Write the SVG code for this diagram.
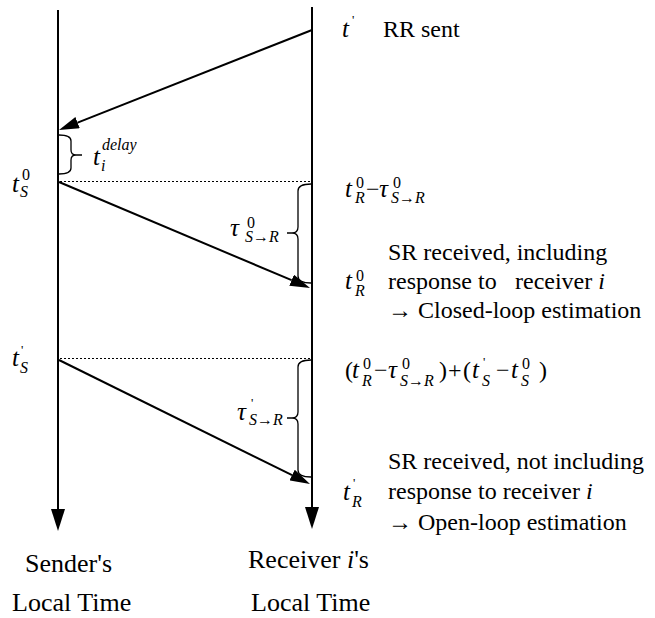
<svg xmlns="http://www.w3.org/2000/svg" width="655" height="618" viewBox="0 0 655 618" font-family="Liberation Serif, DejaVu Serif, serif">
<style>
.l{stroke:#000;stroke-width:2;fill:none}
.b{stroke:#000;stroke-width:1.3;fill:none}
.d{stroke:#000;stroke-width:1;stroke-dasharray:2 2;fill:none}
.t,.lab,.m,.s,.n,.p{font-family:'Liberation Serif','DejaVu Serif',serif;fill:#000}
.t{font-size:24px}
.lab{font-size:26px}
.m{font-size:25px;font-style:italic}
.s{font-size:16px;font-style:italic}
.n{font-size:16px}
.p{font-size:13px}
</style>
<defs>
<marker id="ah" markerUnits="userSpaceOnUse" markerWidth="20" markerHeight="12" refX="0" refY="6" orient="auto"><path d="M0,0 L20,6 L0,12 z" fill="#000"/></marker>
<marker id="big" markerUnits="userSpaceOnUse" markerWidth="22" markerHeight="14" refX="0" refY="7" orient="auto"><path d="M0,0 L22,7 L0,14 z" fill="#000"/></marker>
</defs>
<g id="connectors">
<line id="sender-timeline" class="l" x1="58" y1="10" x2="58" y2="509" marker-end="url(#big)"/>
<line id="receiver-timeline" class="l" x1="312" y1="7" x2="312" y2="507" marker-end="url(#big)"/>
<line id="rr-msg" class="l" x1="312" y1="30" x2="77.6" y2="122.6" marker-end="url(#ah)"/>
<line id="sr0-msg" class="l" x1="59" y1="182" x2="291.6" y2="280.2" marker-end="url(#ah)"/>
<line id="sr1-msg" class="l" x1="59" y1="360" x2="292.1" y2="475.1" marker-end="url(#ah)"/>
<line class="d" x1="60" y1="181.5" x2="311" y2="181.5"/>
<line class="d" x1="60" y1="358.5" x2="311" y2="358.5"/>
<path class="b" d="M59,135 Q71,135 71,141 L71,150 Q71,155 76,155 L82,155 M76,155 Q71,155 71,160 L71,168 Q71,174 59,174"/>
<path class="b" d="M311,184 Q298,184 298,191 L298,227 Q298,233 292,233 L287,233 M292,233 Q298,233 298,239 L298,276 Q298,283 311,283"/>
<path class="b" d="M311,360 Q298,360 298,367 L298,412 Q298,418 292,418 L287,418 M292,418 Q298,418 298,424 L298,470 Q298,477 311,477"/>
</g>
<g id="rr-sent">
<text class="m" x="342" y="37">t</text><text class="p" x="352" y="24">'</text>
<text class="t" x="383" y="37">RR sent</text>
</g>
<g id="t-delay">
<text class="m" x="93" y="165">t</text><text class="s" x="102" y="150">delay</text><text class="s" x="101" y="171">i</text>
</g>
<g id="ts0">
<text class="m" x="12" y="192">t</text><text class="n" x="22" y="180">0</text><text class="s" x="20" y="197">S</text>
</g>
<g id="tr0-minus-tau">
<text class="m" x="345" y="197">t</text><text class="n" x="356" y="188">0</text><text class="s" x="355" y="203">R</text>
<text class="t" x="366" y="197">−</text>
<text class="m" x="379" y="197">τ</text><text class="n" x="393" y="188">0</text><text class="s" x="391" y="203">S→R</text>
</g>
<g id="tau0">
<text class="m" x="230" y="236">τ</text><text class="n" x="247" y="228">0</text><text class="s" x="245" y="242">S→R</text>
</g>
<g id="sr-closed">
<text class="m" x="345" y="289">t</text><text class="n" x="356" y="281">0</text><text class="s" x="355" y="296">R</text>
<text class="t" x="388" y="260">SR received, including</text>
<text class="t" x="388" y="289">response to<tspan x="515">receiver </tspan><tspan font-style="italic">i</tspan></text>
<text class="t" x="388" y="318">→ Closed-loop estimation</text>
</g>
<g id="ts1">
<text class="m" x="12" y="366">t</text><text class="p" x="21" y="354">'</text><text class="s" x="20" y="373">S</text>
</g>
<g id="formula">
<text class="t" x="345" y="378">(</text>
<text class="m" x="352" y="378">t</text><text class="n" x="363" y="369">0</text><text class="s" x="362" y="386">R</text>
<text class="t" x="374" y="378">−</text>
<text class="m" x="388" y="378">τ</text><text class="n" x="402" y="369">0</text><text class="s" x="400" y="386">S→R</text>
<text class="t" x="439" y="378">)</text>
<text class="t" x="448" y="378">+</text>
<text class="t" x="463" y="378">(</text>
<text class="m" x="472" y="378">t</text><text class="p" x="483" y="366">'</text><text class="s" x="482" y="386">S</text>
<text class="t" x="496" y="378">−</text>
<text class="m" x="511" y="378">t</text><text class="n" x="522" y="369">0</text><text class="s" x="521" y="386">S</text>
<text class="t" x="539" y="378">)</text>
</g>
<g id="tau1">
<text class="m" x="237" y="420">τ</text><text class="p" x="251" y="407">'</text><text class="s" x="249" y="425">S→R</text>
</g>
<g id="sr-open">
<text class="m" x="343" y="500">t</text><text class="p" x="353" y="487">'</text><text class="s" x="352" y="507">R</text>
<text class="t" x="388" y="469">SR received, not including</text>
<text class="t" x="388" y="499">response to receiver <tspan font-style="italic">i</tspan></text>
<text class="t" x="388" y="530">→ Open-loop estimation</text>
</g>
<g id="sender-label">
<text class="lab" x="25" y="572">Sender's</text>
<text class="lab" x="12" y="611">Local Time</text>
</g>
<g id="receiver-label">
<text class="lab" x="248" y="568">Receiver <tspan font-style="italic">i</tspan>'s</text>
<text class="lab" x="251" y="611">Local Time</text>
</g>
</svg>
